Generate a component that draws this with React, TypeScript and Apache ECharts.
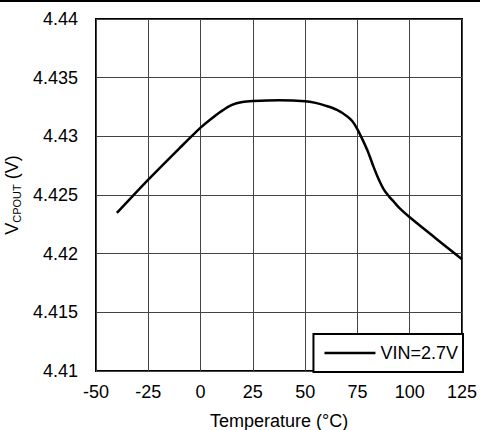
import React, { useEffect, useRef } from "react";
import * as echarts from "echarts";

const temperatures = [-40, -25, -10, 0, 5, 10, 15, 20, 25, 37.5, 50, 55, 60, 65, 70, 72.5, 75, 77.5, 80, 82.5, 85, 87.5, 90, 92.5, 95, 100, 112.5, 125];
const vcpout = [4.42347, 4.42631, 4.4290, 4.43074, 4.43148, 4.43215, 4.43268, 4.43293, 4.43301, 4.43307, 4.433, 4.43285, 4.4326, 4.43227, 4.43172, 4.4313, 4.4306, 4.4297, 4.4287, 4.4275, 4.4264, 4.4255, 4.4249, 4.4244, 4.4239, 4.4231, 4.4213, 4.41952];
const seriesName = "VIN=2.7V";
const xTicks = [-50, -25, 0, 25, 50, 75, 100, 125];
const yTicks = [4.41, 4.415, 4.42, 4.425, 4.43, 4.435, 4.44];

const FONT = "Liberation Sans";

export default function App() {
  const ref = useRef<HTMLDivElement>(null);
  useEffect(() => {
    if (!ref.current) return;
    const chart = echarts.init(ref.current, null, { renderer: "svg" });
    const data = temperatures.map((t, i) => [t, vcpout[i]]);
    chart.setOption({
      animation: false,
      backgroundColor: "#fff",
      textStyle: { fontFamily: FONT, color: "#000" },
      grid: {
        left: 96,
        right: 18,
        top: 19,
        bottom: 59,
        show: true,
        borderColor: "#000",
        borderWidth: 2,
        outerBoundsMode: "none",
      },
      xAxis: {
        type: "value",
        min: xTicks[0],
        max: xTicks[xTicks.length - 1],
        interval: 25,
        axisLine: { show: false },
        axisTick: { show: false },
        splitLine: { show: true, lineStyle: { color: "#444", width: 1 } },
        axisLabel: { fontSize: 18, color: "#000", fontFamily: FONT, margin: 12 },
        name: "Temperature (°C)",
        nameLocation: "middle",
        nameGap: 41,
        nameTextStyle: { fontSize: 18, color: "#000", fontFamily: FONT },
      },
      yAxis: {
        type: "value",
        min: yTicks[0],
        max: yTicks[yTicks.length - 1],
        interval: 0.005,
        axisLine: { show: false },
        axisTick: { show: false },
        splitLine: { show: true, lineStyle: { color: "#444", width: 1 } },
        axisLabel: {
          fontSize: 18,
          color: "#000",
          fontFamily: FONT,
          margin: 18,
          formatter: (v: number) => String(parseFloat(v.toFixed(3))),
        },
        name: "{a|V}{b|CPOUT}{a| (V)}",
        nameLocation: "middle",
        nameGap: 74,
        nameRotate: 90,
        nameTextStyle: {
          color: "#000",
          fontFamily: FONT,
          rich: {
            a: { fontSize: 18, fontFamily: FONT, color: "#000", lineHeight: 20 },
            b: { fontSize: 11, fontFamily: FONT, color: "#000", lineHeight: 20, verticalAlign: "bottom", padding: [6, 0, 0, 0] },
          },
        },
      },
      legend: {
        data: [{ name: seriesName, icon: "rect" }],
        right: 17,
        bottom: 58,
        orient: "vertical",
        backgroundColor: "#fff",
        borderColor: "#000",
        borderWidth: 2,
        borderRadius: 0,
        padding: [9, 5, 9, 11],
        itemWidth: 51,
        itemHeight: 2.5,
        itemGap: 0,
        itemStyle: { color: "#000", borderWidth: 0 },
        textStyle: { fontSize: 18, color: "#000", fontFamily: FONT, lineHeight: 20, padding: [0, 0, 0, 0] },
      },
      series: [
        {
          name: seriesName,
          type: "line",
          data,
          showSymbol: false,
          symbol: "none",
          smooth: 0.3,
          lineStyle: { color: "#000", width: 2.5 },
          itemStyle: { color: "#000" },
        },
      ],
      graphic: [
        {
          type: "line",
          shape: { x1: 0, y1: 1, x2: 480, y2: 1 },
          style: { stroke: "#000", lineWidth: 2 },
        },
      ],
    });
    return () => chart.dispose();
  }, []);
  return <div ref={ref} style={{ width: 480, height: 430, position: "absolute", left: 0, top: 0 }} />;
}
